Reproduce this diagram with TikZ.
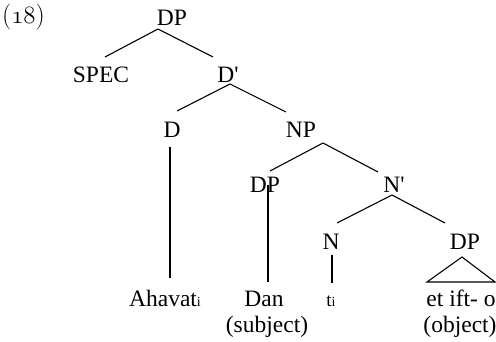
\documentclass[tikz,border=0pt]{standalone}
\usepackage{fontspec}
\setmainfont{Liberation Serif}[Ligatures=TeXOff]
\newcommand\exnum[1]{{\fontsize{26}{30}\selectfont
  \fontencoding{TU}\fontfamily{lmr}\fontseries{m}\fontshape{n}\selectfont(%
  {\fontencoding{OML}\fontfamily{cmm}\fontseries{m}\fontshape{it}\selectfont #1}%
  )}}
\begin{document}
\begin{tikzpicture}[x=1pt,y=-1pt,
  lab/.style={anchor=base,inner sep=0pt,font=\fontsize{23.5}{28}\selectfont},
  edge/.style={line width=1.1pt}]
\useasboundingbox (0,0) rectangle (496,342);
% example number
\node[anchor=base,inner sep=0pt] (ex) at (23.5,24) {\exnum{18}};
% tree labels
\node[lab] (dp0)  at (172,26)  {DP};
\node[lab] (spec) at (101,83)  {SPEC};
\node[lab] (dbar) at (228,83)  {D'};
\node[lab] (d)    at (172,138) {D};
\node[lab] (np)   at (301,138) {NP};
\node[lab] (dp2)  at (265,193) {DP};
\node[lab] (nbar) at (394,193) {N'};
\node[lab] (n)    at (331,250) {N};
\node[lab] (dp3)  at (465,250) {DP};
% leaves
\node[lab] (ahavat) at (165,306) {Ahavat{\fontsize{14}{16}\selectfont i}};
\node[lab] (dan)    at (264,306) {Dan};
\node[lab] (subj)   at (267,332) {(subject)};
\node[lab] (ti)     at (331,306) {{\fontsize{19}{20}\selectfont t}{\fontsize{14}{16}\selectfont i}};
\node[lab] (etifto) at (461,306) {et ift- o};
\node[lab] (obj)    at (460,332) {(object)};
% branches
\draw[edge] ([shift={(4,-26)}]spec.base) -- ([shift={(-14,3)}]dp0.base) -- ([shift={(-15,-26)}]dbar.base);
\draw[edge] ([shift={(5,-27)}]d.base) -- ([shift={(2,1)}]dbar.base) -- ([shift={(-15,-26)}]np.base);
\draw[edge] ([shift={(5,-22)}]dp2.base) -- ([shift={(22,5)}]np.base) -- ([shift={(-16,-21)}]nbar.base);
\draw[edge] ([shift={(6,-27)}]n.base) -- ([shift={(-2,2)}]nbar.base) -- ([shift={(-20,-27)}]dp3.base);
% vertical lines
\draw[edge] ([shift={(-2,9)}]d.base) -- ([shift={(5,-28)}]ahavat.base);
\draw[edge] ([shift={(3,-8)}]dp2.base) -- ([shift={(4,-24)}]dan.base);
\draw[edge] ([shift={(1,5)}]n.base) -- ([shift={(1,-23)}]ti.base);
% triangle
\draw[edge,line join=miter] ([shift={(-3,7)}]dp3.base) -- ([shift={(34,-24)}]etifto.base) -- ([shift={(-34,-24)}]etifto.base) -- cycle;
\end{tikzpicture}
\end{document}
